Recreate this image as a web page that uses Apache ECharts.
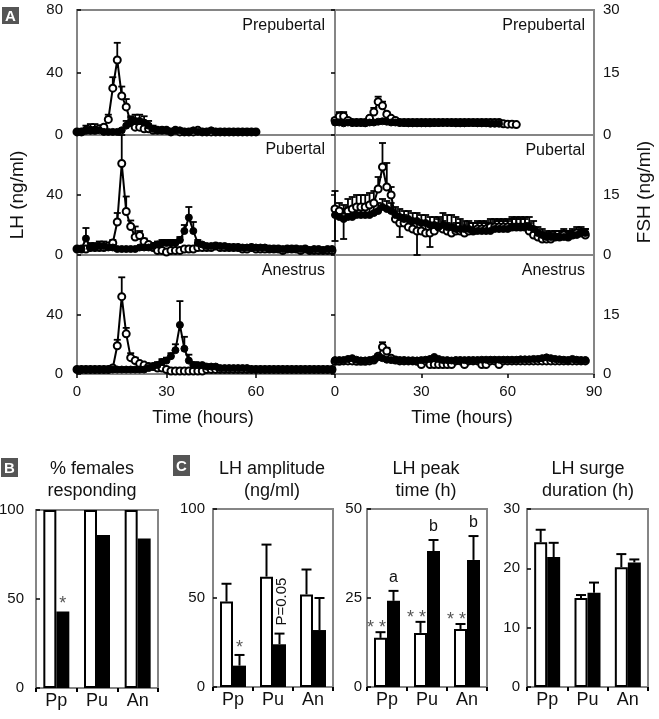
<!DOCTYPE html>
<html>
<head>
<meta charset="utf-8">
<script src="https://cdn.jsdelivr.net/npm/echarts/dist/echarts.min.js"></script>
<style>
  html, body { margin: 0; padding: 0; background: #fff; }
  #chart { width: 659px; height: 719px; }
</style>
</head>
<body>
<div id="chart"></div>
<script>
// hours between samples in the time courses
var sampleStep = 1.5;

// ---- A: LH (ng/ml), left column ----
var ppLhOpen = [2, 2, 3, 3, 3, 4, 5, 10, 30, 48,
  25, 18, 8, 5, 5, 4, 4, 3, 3, 3,
  3, 2, 3, 2, 2, 2, 2, 3, 2, 2,
  2, 2, 2, 2, 2, 2, 2, 2, 2, 2,
  2];
var ppLhOpenErr = [0, 0, 0, 0, 0, 1, 1, 3, 7, 11,
  6, 5, 3, 2, 2, 1, 1, 1, 0, 0,
  0, 0, 0, 0, 0, 0, 0, 0, 0, 0,
  0, 0, 0, 0, 0, 0, 0, 0, 0, 0,
  0];
var ppLhFill = [2, 2, 3, 3, 3, 3, 2, 2, 2, 2,
  3, 6, 8, 9, 9, 8, 6, 4, 3, 3,
  3, 2, 3, 3, 2, 2, 3, 2, 2, 2,
  3, 2, 2, 2, 2, 2, 2, 2, 2, 2,
  2];
var ppLhFillErr = [0, 1, 3, 4, 4, 2, 1, 0, 0, 0,
  1, 3, 4, 4, 4, 4, 3, 2, 1, 1,
  1, 0, 1, 1, 0, 0, 1, 0, 0, 0,
  0, 0, 0, 0, 0, 0, 0, 0, 0, 0,
  0];

var puLhOpen = [4, 4, 4, 5, 5, 5, 5, 6, 8, 22,
  61, 29, 19, 12, 13, 9, 7, 5, 3, 3,
  2, 3, 3, 3, 4, 4, 4, 5, 5, 5,
  5, 6, 5, 5, 5, 5, 5, 4, 4, 5,
  4, 4, 4, 4, 4, 4, 3, 4, 4, 4,
  3, 4, 3, 3, 3, 3, 3, 3];
var puLhOpenErr = [0, 0, 0, 0, 0, 0, 0, 1, 2, 6,
  19, 10, 4, 7, 3, 2, 1, 1, 1, 1,
  1, 1, 1, 1, 1, 1, 0, 0, 0, 0,
  0, 0, 0, 0, 0, 0, 0, 0, 0, 0,
  0, 0, 0, 0, 0, 0, 0, 0, 0, 0,
  0, 0, 0, 0, 0, 0, 0, 0];
var puLhFill = [4, 4, 11, 5, 5, 6, 6, 5, 5, 4,
  4, 4, 4, 4, 5, 5, 5, 6, 7, 8,
  8, 8, 8, 10, 16, 25, 16, 8, 7, 6,
  6, 6, 6, 6, 5, 5, 5, 5, 5, 5,
  5, 5, 5, 4, 4, 4, 4, 4, 4, 4,
  4, 4, 3, 4, 4, 3, 4, 4];
var puLhFillErr = [0, 1, 7, 3, 3, 3, 3, 2, 1, 0,
  0, 0, 0, 0, 0, 1, 1, 2, 2, 2,
  2, 2, 2, 2, 4, 7, 6, 2, 1, 1,
  1, 1, 1, 1, 1, 1, 0, 0, 0, 0,
  0, 0, 0, 0, 0, 0, 0, 0, 0, 0,
  0, 0, 0, 0, 0, 0, 0, 0];

var anLhOpen = [3, 3, 3, 3, 3, 3, 3, 3, 4, 19,
  52, 27, 11, 9, 7, 6, 5, 5, 4, 4,
  3, 2, 2, 2, 2, 2, 2, 2, 2, 3,
  3, 3, 3, 3, 3, 3, 3, 3, 3, 3,
  3, 3, 3, 3, 3, 3, 3, 3, 3, 3,
  3, 3, 3, 3, 3, 3, 3, 3];
var anLhOpenErr = [0, 0, 0, 0, 0, 0, 0, 0, 1, 4,
  13, 4, 3, 2, 1, 1, 1, 0, 0, 0,
  0, 0, 0, 0, 0, 0, 0, 0, 0, 0,
  0, 0, 0, 0, 0, 0, 0, 0, 0, 0,
  0, 0, 0, 0, 0, 0, 0, 0, 0, 0,
  0, 0, 0, 0, 0, 0, 0, 0];
var anLhFill = [3, 3, 3, 3, 3, 3, 3, 3, 3, 3,
  3, 3, 3, 3, 3, 3, 4, 5, 6, 8,
  9, 12, 16, 33, 17, 9, 6, 6, 6, 5,
  5, 5, 4, 4, 4, 4, 4, 4, 4, 3,
  3, 3, 3, 3, 3, 3, 3, 3, 3, 3,
  3, 3, 3, 3, 3, 3, 3, 3];
var anLhFillErr = [0, 0, 0, 0, 0, 0, 0, 0, 0, 0,
  0, 0, 0, 0, 0, 0, 1, 1, 2, 2,
  2, 2, 4, 16, 8, 4, 2, 1, 1, 1,
  1, 1, 0, 0, 0, 0, 0, 0, 0, 0,
  0, 0, 0, 0, 0, 0, 0, 0, 0, 0,
  0, 0, 0, 0, 0, 0, 0, 0];

// ---- A: FSH (ng/ml), right column ----
var ppFshOpen = [3.5, 4.5, 4.5, 3.5, 3, 3, 3, 3, 4, 5.5,
  8, 7, 5, 4, 3.5, 3, 3, 3, 3, 3,
  3, 3, 3, 3, 3, 3, 3, 3, 3, 3,
  3, 3, 3, 3, 3, 3, 3, 3, 3, 2.7,
  2.6, 2.6, 2.5];
var ppFshOpenErr = [0.5, 1, 1, 0.5, 0, 0, 0, 0, 0.5, 1,
  1.2, 1, 0.5, 0, 0, 0, 0, 0, 0, 0,
  0, 0, 0, 0, 0, 0, 0, 0, 0, 0,
  0, 0, 0, 0, 0, 0, 0, 0, 0, 0,
  0, 0, 0];
var ppFshFill = [3, 3, 2.8, 3, 3, 3, 3, 2.8, 3, 3,
  3.2, 3.3, 3.2, 3, 3, 3, 2.9, 2.8, 2.8, 2.8,
  2.8, 2.8, 2.8, 2.9, 2.9, 3, 3, 2.9, 2.8, 2.8,
  2.8, 2.9, 2.9, 2.8, 2.8, 2.8, 2.7, 2.7, 2.7];

var puFshOpen = [11.5, 11, 9.5, 11, 11.5, 12, 12, 12, 12.5, 13,
  16.5, 22, 17, 15, 9, 8, 8, 7, 6.5, 6,
  6, 5.5, 5.5, 6, 7, 6.5, 6, 5.5, 6, 6,
  5.5, 6, 6, 6.5, 6.5, 6.5, 7, 7, 7, 7,
  7, 7, 7, 7, 7, 6, 5, 4.5, 4, 4,
  4, 4.5, 4.5, 5, 4.5, 5, 5.5, 5.5, 5];
var puFshOpenUp = [4.5, 2, 3, 3, 3, 3, 3, 3, 3, 3,
  3, 6, 6, 2, 2, 2, 2, 2, 2, 2,
  2, 2, 2, 2, 2, 2, 2, 2, 2, 2,
  2, 2, 2, 2, 2, 2, 2, 2, 2, 2,
  2, 2, 2, 2, 2, 2, 2, 1.5, 1.5, 1.5,
  1.5, 1.5, 1.5, 1.5, 1.5, 1.5, 1.5, 1.5, 1.5];
var puFshOpenDown = [8, 0, 5.5, 0, 0, 0, 0, 0, 0, 0,
  0, 0, 0, 0, 0, 3.5, 0, 0, 0, 6,
  0, 0, 3.5, 0, 0, 0, 0, 0, 0, 0,
  0, 0, 0, 0, 0, 0, 0, 0, 0, 0,
  0, 0, 0, 0, 0, 0, 0, 0, 0, 0,
  0, 0, 0, 0, 0, 0, 0, 0, 0];
var puFshFill = [10, 9.5, 9, 9.5, 9.5, 10, 10, 10, 10, 10.5,
  11, 12, 11.5, 11, 10, 9.5, 9, 9, 8.5, 8.5,
  8, 8, 7.5, 7.5, 7, 7.5, 7, 7, 6.5, 6.5,
  6.5, 6.5, 6, 6, 6, 6, 6, 6.5, 6.5, 6.5,
  6.5, 7, 7, 7, 7, 7, 6.5, 5.5, 5, 4.5,
  4.5, 4.5, 4.5, 4.5, 4.5, 5, 5, 5.5, 5.5];
var puFshFillErr = [2, 2, 2.5, 2.5, 2.5, 2.5, 2.5, 2.5, 2.5, 2.5,
  2, 2, 2, 2, 2, 2, 2, 2, 2, 2,
  2, 2, 2, 2, 2.5, 3, 3, 3, 3, 2.5,
  2, 2, 2, 2, 2, 2, 2, 2, 2, 2,
  2, 2.5, 2.5, 2.5, 2.5, 2.5, 2, 1.5, 1.5, 1.5,
  1.5, 1.5, 1.5, 1.5, 1.5, 1, 1, 1, 1];

var anFshOpen = [3.2, 3.2, 3.3, 3.3, 3.3, 3.2, 3.2, 3.2, 3.3, 3.5,
  4.5, 6.8, 5.8, 4, 3.5, 3.3, 3.3, 3.3, 3.3, 3.2,
  2.4, 3.3, 2.4, 2.4, 2.4, 2.4, 2.4, 2.4, 3.3, 3.3,
  2.4, 3.3, 3.3, 3.3, 2.4, 2.4, 3.3, 3.3, 2.4, 3.3,
  3.3, 3.3, 3.3, 3.3, 3.3, 3.3, 3.3, 3.3, 3.3, 3.3,
  3.3, 3.3, 3.3, 3.3, 3.3, 3.3, 3.3, 3.3, 3.3];
var anFshOpenErr = [0, 0, 0, 0, 0, 0, 0, 0, 0, 0,
  0.5, 1.2, 0.8, 0, 0, 0, 0, 0, 0, 0,
  0, 0, 0, 0, 0, 0, 0, 0, 0, 0,
  0, 0, 0, 0, 0, 0, 0, 0, 0, 0,
  0, 0, 0, 0, 0, 0, 0, 0, 0, 0,
  0, 0, 0, 0, 0, 0, 0, 0, 0];
var anFshFill = [3.5, 3.5, 3.5, 3.8, 4, 3.6, 3.4, 3.4, 3.5, 3.7,
  4.2, 4, 3.6, 3.5, 3.5, 3.5, 3.5, 3.4, 3.4, 3.4,
  3.5, 3.6, 3.8, 4.3, 3.8, 3.5, 3.5, 3.4, 3.5, 3.5,
  3.5, 3.5, 3.5, 3.5, 3.6, 3.6, 3.6, 3.6, 3.6, 3.6,
  3.6, 3.6, 3.6, 3.7, 3.7, 3.7, 3.8, 3.8, 4, 4.2,
  4, 3.8, 3.7, 3.6, 3.5, 3.8, 3.6, 3.5, 3.5];

// ---- B and C ----
var groups = ['Pp', 'Pu', 'An'];
var respOpen = [100, 100, 100];
var respFilled = [43, 86, 84];
var ampOpen = [48, 62, 52], ampOpenErr = [10, 18, 14];
var ampFilled = [12, 24, 32], ampFilledErr = [6, 6, 18];
var peakOpen = [13.8, 15.2, 16.3], peakOpenErr = [1.6, 3.1, 1.4];
var peakFilled = [24.2, 38.2, 35.7], peakFilledErr = [2.8, 3.1, 6.7];
var surgeOpen = [24.4, 15.0, 20.2], surgeOpenErr = [2.1, 0.5, 2.2];
var surgeFilled = [21.9, 15.9, 21.0], surgeFilledErr = [2.4, 1.7, 0.5];

// side: -1 open bar, 1 filled bar
var respNotes = [{ group: 0, side: 1, text: '*' }];
var ampNotes = [{ group: 0, side: 1, text: '*' }, { group: 1, side: 1, text: 'P=0.05', vertical: true }];
var peakNotes = [
  { group: 0, side: -1, text: '* *' }, { group: 1, side: -1, text: '* *' }, { group: 2, side: -1, text: '* *' },
  { group: 0, side: 1, text: 'a' }, { group: 1, side: 1, text: 'b' }, { group: 2, side: 1, text: 'b' }
];

var FONT = '"Liberation Sans", Arial, Helvetica, sans-serif';
var INK = '#111';
var FRAME = '#858585';
var BAR_W = 13;

function pairs(vals) {
  return vals.map(function (v, i) { return [i * sampleStep, v]; });
}
function errRows(vals, up, down) {
  var rows = [];
  vals.forEach(function (v, i) {
    var u = up ? up[i] : 0, d = down ? down[i] : 0;
    if (u > 0 || d > 0) rows.push([i * sampleStep, v, u, d]);
  });
  return rows;
}

function timeErrSeries(gi, vals, up, down) {
  return {
    type: 'custom', xAxisIndex: gi, yAxisIndex: gi, silent: true, z: 2,
    data: errRows(vals, up, down),
    renderItem: function (params, api) {
      var t = api.value(0), v = api.value(1), u = api.value(2), d = api.value(3);
      var top = api.coord([t, v + u]);
      var bot = api.coord([t, v - d]);
      var st = { stroke: '#000', lineWidth: 1.8 };
      var kids = [{ type: 'line', shape: { x1: top[0], y1: top[1], x2: bot[0], y2: bot[1] }, style: st }];
      if (u > 0) kids.push({ type: 'line', shape: { x1: top[0] - 3.5, y1: top[1], x2: top[0] + 3.5, y2: top[1] }, style: st });
      if (d > 0) kids.push({ type: 'line', shape: { x1: bot[0] - 3.5, y1: bot[1], x2: bot[0] + 3.5, y2: bot[1] }, style: st });
      return { type: 'group', children: kids };
    }
  };
}

function timeLine(gi, vals, filled) {
  return {
    type: 'line', xAxisIndex: gi, yAxisIndex: gi, data: pairs(vals),
    symbol: 'circle', symbolSize: 7, showAllSymbol: true, silent: true,
    z: filled ? 4 : 3,
    lineStyle: { color: '#000', width: 2 },
    itemStyle: filled
      ? { color: '#000', borderColor: '#000', borderWidth: 1 }
      : { color: '#fff', borderColor: '#000', borderWidth: 2 }
  };
}

function barSeries(gi, vals, filled) {
  return {
    type: 'bar', xAxisIndex: gi, yAxisIndex: gi, data: vals,
    barWidth: BAR_W, barGap: '0%', silent: true,
    itemStyle: filled ? { color: '#000' } : { color: '#fff', borderColor: '#000', borderWidth: 2 }
  };
}

function barErrSeries(gi, vals, errs, side) {
  return {
    type: 'custom', xAxisIndex: gi, yAxisIndex: gi, silent: true, z: 5,
    data: vals.map(function (v, i) { return [i, v, errs[i]]; }),
    renderItem: function (params, api) {
      var base = api.coord([api.value(0), api.value(1)]);
      var top = api.coord([api.value(0), api.value(1) + api.value(2)]);
      var x = base[0] + side * BAR_W / 2;
      var st = { stroke: '#000', lineWidth: 2 };
      return { type: 'group', children: [
        { type: 'line', shape: { x1: x, y1: base[1], x2: x, y2: top[1] }, style: st },
        { type: 'line', shape: { x1: x - 5, y1: top[1], x2: x + 5, y2: top[1] }, style: st }
      ] };
    }
  };
}

function noteSeries(gi, notes, openV, openE, fillV, fillE) {
  return {
    type: 'custom', xAxisIndex: gi, yAxisIndex: gi, silent: true, z: 6,
    data: notes.map(function (n) {
      var top = n.side < 0
        ? openV[n.group] + (openE ? openE[n.group] : 0)
        : fillV[n.group] + (fillE ? fillE[n.group] : 0);
      return [n.group, top];
    }),
    renderItem: function (params, api) {
      var n = notes[params.dataIndex];
      var p = api.coord([api.value(0), api.value(1)]);
      var x = p[0] + n.side * BAR_W / 2;
      if (n.vertical) {
        return { type: 'text', x: x + 2, y: p[1] - 8, rotation: Math.PI / 2,
          style: { text: n.text, fill: INK, fontSize: 15, fontFamily: FONT, align: 'left', verticalAlign: 'middle' } };
      }
      var star = n.text.indexOf('*') >= 0;
      var dy = star ? (n.text.length > 1 ? -4 : -7) : -13;
      return { type: 'text', x: x + (star && n.side < 0 ? -4 : 0), y: p[1] + dy,
        style: { text: n.text, fill: star ? '#555' : INK, fontSize: star ? 18 : 16, fontFamily: FONT,
          align: 'center', verticalAlign: 'middle' } };
    }
  };
}

// ---- layout ----
var topRows = [{ top: 10, height: 125 }, { top: 135, height: 120 }, { top: 255, height: 119 }];
var grids = [];
topRows.forEach(function (r) { grids.push({ left: 77, width: 258, top: r.top, height: r.height }); });
topRows.forEach(function (r) { grids.push({ left: 335, width: 259, top: r.top, height: r.height }); });
grids.push({ left: 36, width: 122, top: 510, height: 178 });
grids.push({ left: 213, width: 120, top: 509, height: 178 });
grids.push({ left: 367, width: 120, top: 509, height: 178 });
grids.push({ left: 527, width: 121, top: 509, height: 178 });
grids.forEach(function (g) {
  g.show = true; g.borderColor = FRAME; g.borderWidth = 2; g.backgroundColor = 'transparent';
  g.containLabel = false; g.outerBoundsMode = 'none';
});

var labelStyle = { color: INK, fontFamily: FONT, fontSize: 15 };
function lbl(extra) { return Object.assign({}, labelStyle, extra); }
var tickIn = { show: true, inside: true, length: 4, lineStyle: { color: '#000', width: 1.5 } };

var xAxes = [], yAxes = [];
for (var k = 0; k < 6; k++) {
  var right = k >= 3, bottom = k % 3 === 2, first = k % 3 === 0;
  xAxes.push({
    type: 'value', gridIndex: k, min: 0, max: right ? 90 : 86.5, interval: 30,
    axisLine: { show: false }, splitLine: { show: false },
    axisTick: { show: bottom, length: 4, lineStyle: { color: '#000', width: 1.5 } },
    axisLabel: lbl({ show: bottom, margin: 10, showMaxLabel: right })
  });
  yAxes.push({
    type: 'value', gridIndex: k, position: right ? 'right' : 'left',
    min: 0, max: right ? 30 : 80, interval: right ? 15 : 40,
    axisLine: { show: false }, splitLine: { show: false }, axisTick: tickIn,
    axisLabel: lbl({ margin: right ? 9 : 14, showMaxLabel: first })
  });
}
var barAxes = [
  { max: 100, interval: 50, margin: 12 },
  { max: 100, interval: 50, margin: 8 },
  { max: 50, interval: 25, margin: 5 },
  { max: 30, interval: 10, margin: 7 }
];
barAxes.forEach(function (a, i) {
  var gi = 6 + i;
  xAxes.push({
    type: 'category', gridIndex: gi, data: groups,
    axisLine: { show: false }, splitLine: { show: false },
    axisTick: { show: true, length: 4, lineStyle: { color: '#000', width: 2 } },
    axisLabel: lbl({ fontSize: 18, margin: 4 })
  });
  yAxes.push({
    type: 'value', gridIndex: gi, min: 0, max: a.max, interval: a.interval,
    axisLine: { show: false }, splitLine: { show: false }, axisTick: tickIn,
    axisLabel: lbl({ margin: a.margin })
  });
});

var series = [
  timeErrSeries(0, ppLhOpen, ppLhOpenErr), timeErrSeries(0, ppLhFill, ppLhFillErr),
  timeLine(0, ppLhOpen, false), timeLine(0, ppLhFill, true),
  timeErrSeries(1, puLhOpen, puLhOpenErr), timeErrSeries(1, puLhFill, puLhFillErr),
  timeLine(1, puLhOpen, false), timeLine(1, puLhFill, true),
  timeErrSeries(2, anLhOpen, anLhOpenErr), timeErrSeries(2, anLhFill, anLhFillErr),
  timeLine(2, anLhOpen, false), timeLine(2, anLhFill, true),
  timeErrSeries(3, ppFshOpen, ppFshOpenErr),
  timeLine(3, ppFshOpen, false), timeLine(3, ppFshFill, true),
  timeErrSeries(4, puFshOpen, puFshOpenUp, puFshOpenDown), timeErrSeries(4, puFshFill, puFshFillErr),
  timeLine(4, puFshOpen, false), timeLine(4, puFshFill, true),
  timeErrSeries(5, anFshOpen, anFshOpenErr),
  timeLine(5, anFshOpen, false), timeLine(5, anFshFill, true),

  barSeries(6, respOpen, false), barSeries(6, respFilled, true),
  noteSeries(6, respNotes, respOpen, null, respFilled, null),

  barSeries(7, ampOpen, false), barSeries(7, ampFilled, true),
  barErrSeries(7, ampOpen, ampOpenErr, -1), barErrSeries(7, ampFilled, ampFilledErr, 1),
  noteSeries(7, ampNotes, ampOpen, ampOpenErr, ampFilled, ampFilledErr),

  barSeries(8, peakOpen, false), barSeries(8, peakFilled, true),
  barErrSeries(8, peakOpen, peakOpenErr, -1), barErrSeries(8, peakFilled, peakFilledErr, 1),
  noteSeries(8, peakNotes, peakOpen, peakOpenErr, peakFilled, peakFilledErr),

  barSeries(9, surgeOpen, false), barSeries(9, surgeFilled, true),
  barErrSeries(9, surgeOpen, surgeOpenErr, -1), barErrSeries(9, surgeFilled, surgeFilledErr, 1)
];

// ---- texts ----
function txt(x, y, text, size, opts) {
  opts = opts || {};
  var align = opts.align || 'center';
  return {
    type: 'text', x: x, y: y, rotation: opts.rotation || 0, silent: true, z: 100,
    style: {
      text: text, fill: opts.fill || INK, font: (opts.bold ? 'bold ' : '') + size + 'px ' + FONT,
      align: align, textAlign: align, verticalAlign: 'middle', textVerticalAlign: 'middle'
    }
  };
}
function tag(x, y, w, h, letter) {
  return [
    { type: 'rect', shape: { x: x, y: y, width: w, height: h }, style: { fill: '#555' }, silent: true, z: 100 },
    txt(x + w / 2, y + h / 2 + 1, letter, 15, { fill: '#fff', bold: true })
  ];
}

var graphics = [].concat(
  tag(2, 7, 17, 17, 'A'), tag(1, 458, 17, 19, 'B'), tag(173, 455, 17, 21, 'C'),
  [
    txt(325, 26, 'Prepubertal', 16, { align: 'right' }),
    txt(325, 150, 'Pubertal', 16, { align: 'right' }),
    txt(325, 271, 'Anestrus', 16, { align: 'right' }),
    txt(585, 26, 'Prepubertal', 16, { align: 'right' }),
    txt(585, 151, 'Pubertal', 16, { align: 'right' }),
    txt(585, 271, 'Anestrus', 16, { align: 'right' }),
    txt(18, 195, 'LH (ng/ml)', 19, { rotation: Math.PI / 2 }),
    txt(645, 192, 'FSH (ng/ml)', 19, { rotation: Math.PI / 2 }),
    txt(203, 418, 'Time (hours)', 18),
    txt(462, 418, 'Time (hours)', 18),
    txt(92, 469, '% females', 18), txt(92, 491, 'responding', 18),
    txt(272, 469, 'LH amplitude', 18), txt(272, 491, '(ng/ml)', 18),
    txt(426, 469, 'LH peak', 18), txt(426, 491, 'time (h)', 18),
    txt(588, 469, 'LH surge', 18), txt(588, 491, 'duration (h)', 18)
  ]
);

var chart = echarts.init(document.getElementById('chart'), null, { renderer: 'canvas' });
chart.setOption({
  animation: false,
  backgroundColor: '#fff',
  textStyle: { fontFamily: FONT },
  grid: grids,
  xAxis: xAxes,
  yAxis: yAxes,
  series: series,
  graphic: { elements: graphics }
});
</script>
</body>
</html>
